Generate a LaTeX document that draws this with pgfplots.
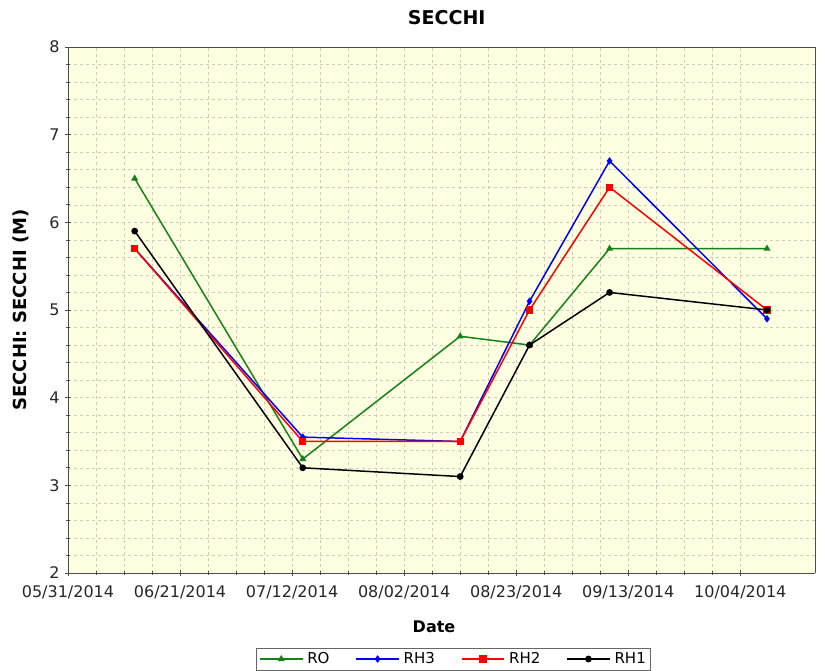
\documentclass[border=0pt]{standalone}
\usepackage{pgfplots}
\pgfplotsset{compat=1.18}
\usepackage{fontspec}
\setmainfont{DejaVu Sans}
\definecolor{bgyel}{RGB}{255,255,226}
\definecolor{gridc}{RGB}{205,205,190}
\definecolor{rogreen}{RGB}{20,130,20}
\begin{document}
\begin{tikzpicture}
\begin{axis}[
  scale only axis,
  width=747pt, height=526pt,
  xmin=0, xmax=140, ymin=2, ymax=8,
  xtick={0,21,42,63,84,105,126},
  xticklabels={05/31/2014,06/21/2014,07/12/2014,08/02/2014,08/23/2014,09/13/2014,10/04/2014},
  ytick={2,3,4,5,6,7,8},
  minor x tick num=3, minor y tick num=4,
  grid=both,
  major grid style={gridc, dashed, line width=0.6pt},
  minor grid style={gridc, dashed, line width=0.5pt},
  axis background/.style={fill=bgyel},
  axis line style={draw=gray!60},
  separate axis lines,
  x axis line style={draw=black!70, line width=0.8pt},
  y axis line style={draw=black!70, line width=0.8pt},
  tick align=center,
  major tick length=6pt, minor tick length=4pt,
  tick style={black!70, line width=0.7pt},
  xtick pos=bottom, ytick pos=left,
  /pgf/number format/assume math mode=true,
  tick label style={font=\fontsize{16}{18}\selectfont, text=black!85},
  xticklabel style={yshift=-6pt},
  yticklabel style={xshift=-2pt},
  title={\textbf{SECCHI}},
  title style={font=\fontsize{19}{22}\selectfont, at={(axis description cs:0.507,1.045)}, anchor=center},
  xlabel={\textbf{Date}},
  xlabel style={font=\fontsize{16}{19}\selectfont, at={(axis description cs:0.49,-0.103)}, anchor=center},
  ylabel={\textbf{SECCHI: SECCHI (M)}},
  ylabel style={font=\fontsize{18}{21}\selectfont, at={(axis description cs:-0.063,0.5)}, anchor=center},
  legend columns=4,
  legend style={at={(axis description cs:0.516,-0.1426)}, anchor=north,
    font=\fontsize{15}{17}\selectfont, draw=black!60, fill=white,
    inner sep=2.5pt,
    /tikz/every odd column/.append style={column sep=2pt},
    /tikz/every even column/.append style={column sep=24pt}},
  legend image code/.code={\draw[line width=1.5pt, mark repeat=2, mark phase=2] plot coordinates {(0cm,0cm) (0.75cm,0cm) (1.5cm,0cm)};},
  legend cell align=left,
]
\addplot[rogreen, line width=1.5pt, mark=triangle*, mark size=2.6pt]
  coordinates {(12.5,6.5) (44,3.3) (73.5,4.7) (86.5,4.6) (101.5,5.7) (131,5.7)};
\addlegendentry{RO}
\addplot[blue, line width=1.5pt, mark=diamond*, mark size=2.6pt]
  coordinates {(12.5,5.7) (44,3.55) (73.5,3.5) (86.5,5.1) (101.5,6.7) (131,4.9)};
\addlegendentry{RH3}
\addplot[red, line width=1.5pt, mark=square*, mark size=2.8pt]
  coordinates {(12.5,5.7) (44,3.5) (73.5,3.5) (86.5,5.0) (101.5,6.4) (131,5.0)};
\addlegendentry{RH2}
\addplot[black, line width=1.5pt, mark=*, mark size=2.6pt]
  coordinates {(12.5,5.9) (44,3.2) (73.5,3.1) (86.5,4.6) (101.5,5.2) (131,5.0)};
\addlegendentry{RH1}
\end{axis}
\pgfresetboundingbox
\path (current axis.south west) ++(-68pt,-98pt) rectangle ++(825pt,671pt);
\end{tikzpicture}
\end{document}
